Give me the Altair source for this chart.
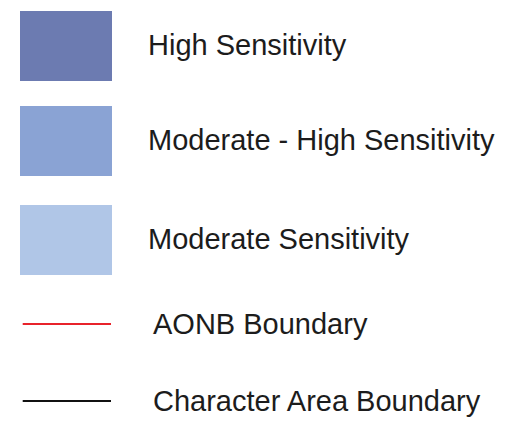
import altair as alt
import pandas as pd

labels = ["High Sensitivity", "Moderate - High Sensitivity", "Moderate Sensitivity",
          "AONB Boundary", "Character Area Boundary"]
kinds = ["area", "area", "area", "line", "line"]
colors = ["#6c7bb1", "#8aa3d4", "#b0c6e7", "#e8232b", "#111111"]
rows = [0, 1, 2, 3, 4]

df = pd.DataFrame({"label": labels, "kind": kinds, "color": colors, "row": rows})

yscale = alt.Scale(domain=[0, 1, 2, 3, 4], range=[38, 133, 232, 316, 393], nice=False)
Y = alt.Y("row:Q", scale=yscale, axis=None)
C = alt.Color("color:N", scale=None, legend=None)

base = alt.Chart(df)

swatches = base.transform_filter(alt.datum.kind == "area").mark_point(
    shape="M-1.3143,-1H1.3143V1H-1.3143Z", size=4900, filled=True, opacity=1, strokeWidth=0
).encode(x=alt.value(58), y=Y, color=C)

lines = base.transform_filter(alt.datum.kind == "line").mark_rule(strokeWidth=2).encode(
    x=alt.value(14.7), x2=alt.value(103), y=Y, color=C
)

text_area = base.transform_filter(alt.datum.kind == "area").mark_text(
    align="left", baseline="alphabetic", dy=8.5, fontSize=29, font="Liberation Sans", color="#1c1c1c"
).encode(x=alt.value(140), y=Y, text="label:N")

text_line = base.transform_filter(alt.datum.kind == "line").mark_text(
    align="left", baseline="alphabetic", dy=9.8, fontSize=29, font="Liberation Sans", color="#1c1c1c"
).encode(x=alt.value(145), y=Y, text="label:N")

chart = alt.layer(swatches, lines, text_area, text_line).properties(
    width=490, height=409, padding=0, autosize="none", background="white"
).configure_view(stroke=None)

chart.save("out.html", embed_options={"renderer": "svg", "actions": False})
